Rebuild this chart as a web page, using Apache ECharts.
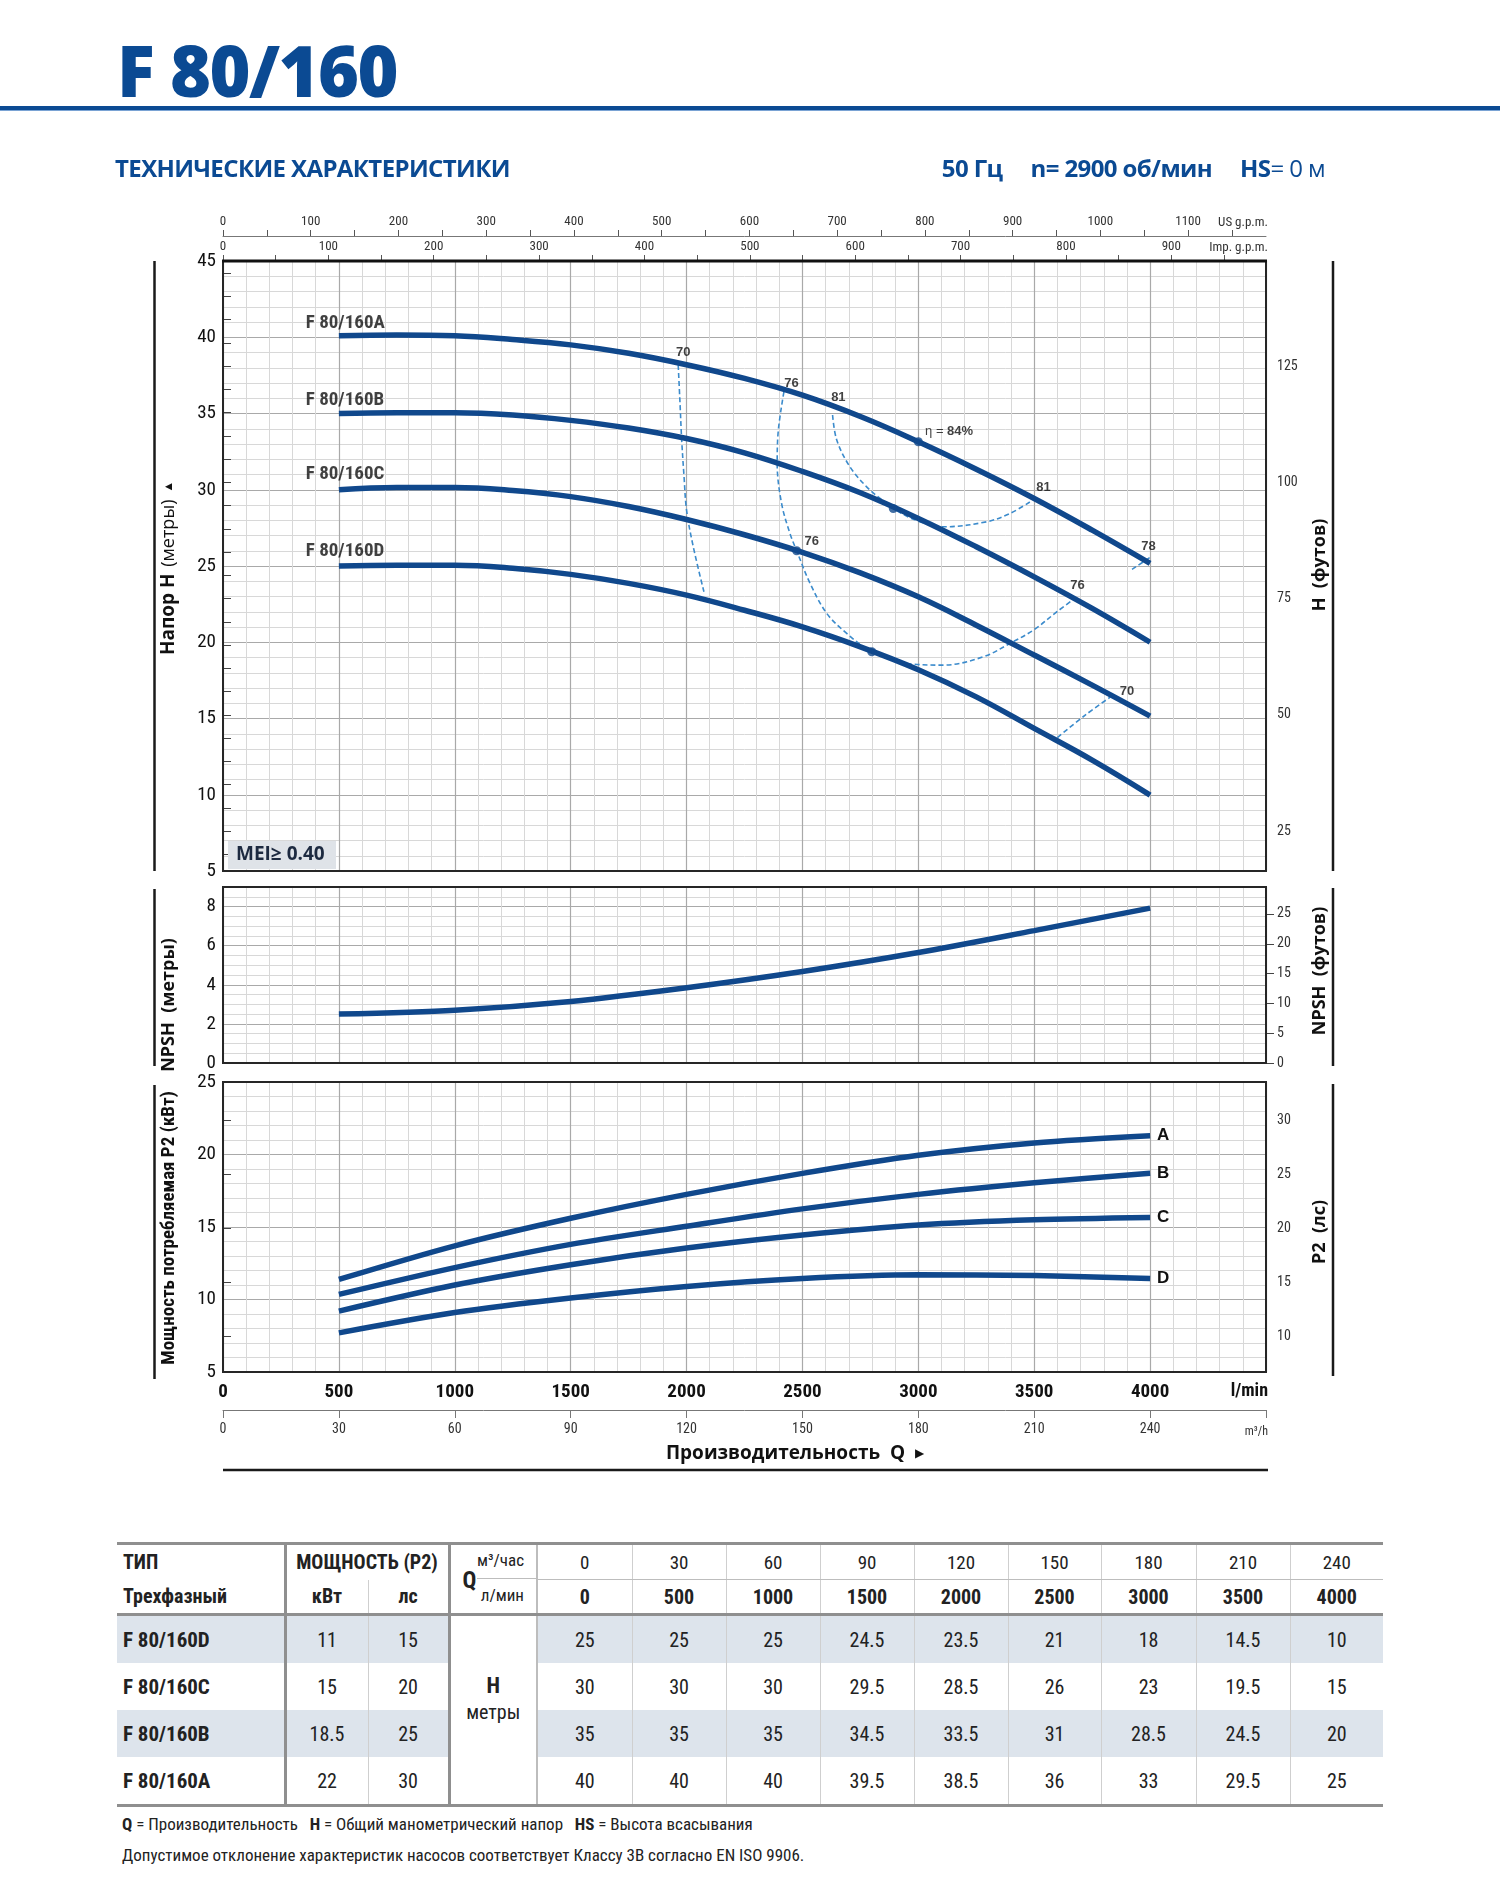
<!DOCTYPE html>
<html lang="ru">
<head>
<meta charset="UTF-8">
<title>F 80/160</title>
<style>
  body { margin:0; background:#fff; width:1500px; height:1893px; position:relative; overflow:hidden; font-family:'Open Sans', sans-serif; }
  .abs { position:absolute; z-index:5; }
  #title { left:117px; top:35px; font-size:70px; line-height:70px; font-weight:800; color:#0b4a93; letter-spacing:-1.5px; }
  #rule { left:0; top:106px; width:1500px; height:4px; background:#0b4a93; border-bottom:1px solid #7aa3d4; }
  #sub { left:115px; top:156px; font-size:24px; line-height:24px; font-weight:bold; color:#0b4a93; letter-spacing:-0.6px; }
  #spec { right:175px; top:156px; font-size:24px; line-height:24px; color:#0b4a93; letter-spacing:-0.6px; white-space:nowrap; }
  #spec b { margin-left:28px; }
  #spec b:first-child { margin-left:0; }
  #chart { position:absolute; left:0; top:0; width:1500px; height:1490px; z-index:1; }
  #tbl { position:absolute; left:117px; top:1542px; width:1266px; border-collapse:collapse; table-layout:fixed; z-index:5;
         font-family:'Liberation Sans Narrow','Arial Narrow','Roboto Condensed',sans-serif; font-size:20px; color:#222; }
  #tbl td { padding:0; text-align:center; border-right:1px solid #cfcfcf; }
  #tbl tr.r1 td { height:32px; border-top:3px solid #8f8f8f; }
  #tbl tr.r2 td { height:31px; border-bottom:3px solid #8f8f8f; }
  #tbl tr.d td { height:47px; }
  #tbl tr.last td { border-bottom:3px solid #8f8f8f; }
  #tbl tr.sh td { background:#dde4ec; }
  #tbl td.typ { text-align:left; padding-left:6px; font-weight:bold; border-right:3px solid #8f8f8f; }
  #tbl tr.d td.typ { font-size:21px; }
  #tbl td.pw { border-right:3px solid #8f8f8f; }
  #tbl td.b { font-weight:bold; }
  #tbl tr.r1 td.m3 { border-bottom:1px solid #bdbdbd; font-size:19px; }
  #tbl td.q { border-right:2px solid #bdbdbd; border-bottom:3px solid #8f8f8f; position:relative; }
  #tbl td.hc { background:#fff !important; border-right:2px solid #bdbdbd; border-bottom:3px solid #8f8f8f; vertical-align:middle; padding-bottom:22px; line-height:26px; }
  #tbl td.last { border-right:none; }
  .qbox { position:relative; width:100%; height:68px; }
  .qbox .Q { position:absolute; left:12px; top:22px; font-weight:bold; font-size:23px; }
  .qbox .u1 { position:absolute; right:12px; top:5px; font-size:17px; }
  .qbox .u2 { position:absolute; right:12px; top:40px; font-size:17px; }
  .qbox .ql { position:absolute; left:26px; right:0; top:33px; border-top:1px solid #bdbdbd; }
  .foot { left:122px; font-family:'Liberation Sans Narrow','Arial Narrow','Roboto Condensed',sans-serif; font-size:17px; color:#222; white-space:nowrap; }
  #f1 { top:1814px; }
  #f2 { top:1845px; }
</style>
</head>
<body>
<div id="chart"></div>
<div id="title" class="abs">F 80/160</div>
<div id="rule" class="abs"></div>
<div id="sub" class="abs">ТЕХНИЧЕСКИЕ ХАРАКТЕРИСТИКИ</div>
<div id="spec" class="abs"><b>50 Гц</b><b>n= 2900 об/мин</b><b>HS</b>= 0 м</div>
<table id="tbl"></table>
<div id="f1" class="abs foot"><b>Q</b> = Производительность &nbsp; <b>H</b> = Общий манометрический напор &nbsp; <b>HS</b> = Высота всасывания</div>
<div id="f2" class="abs foot">Допустимое отклонение характеристик насосов соответствует Классу 3В согласно EN ISO 9906.</div>
<script src="https://cdn.jsdelivr.net/npm/echarts@6/dist/echarts.min.js"></script>
<script>
// ---- data ----
// head curves, Q in l/min, H in m
var flowH = [500, 750, 1000, 1250, 1500, 1750, 2000, 2250, 2500, 2750, 3000, 3250, 3500, 3750, 4000];
var headA = [40.1, 40.15, 40.1, 39.85, 39.5, 38.95, 38.2, 37.3, 36.2, 34.8, 33.15, 31.35, 29.43, 27.35, 25.17];
var headB = [35.0, 35.05, 35.05, 34.9, 34.55, 34.05, 33.36, 32.42, 31.2, 29.8, 28.12, 26.26, 24.29, 22.22, 20.0];
var headC = [30.0, 30.15, 30.15, 29.95, 29.55, 28.9, 28.05, 27.05, 25.9, 24.55, 22.98, 21.12, 19.16, 17.19, 15.16];
var headD = [25.0, 25.05, 25.05, 24.85, 24.45, 23.86, 23.09, 22.1, 21.01, 19.7, 18.2, 16.42, 14.35, 12.27, 9.98];
var curveNames = ['F 80/160A', 'F 80/160B', 'F 80/160C', 'F 80/160D'];
var curveNameQ = 357;
var curveNameH = [40.9, 35.9, 31.0, 26.0];

// iso-efficiency lines [Q, H]
var eff70L = [[1964, 38.17], [1972, 35.6], [1979, 33.26], [1989, 30.9], [2000, 28.67], [2029, 26.26], [2075, 23.31]];
var eff76 = [[2420, 36.42], [2396, 33.91], [2391, 31.73], [2410, 29.1], [2446, 27.14], [2475, 26.0], [2533, 23.86],
             [2605, 21.89], [2691, 20.58], [2799, 19.38], [2950, 18.61], [3108, 18.5], [3281, 19.05], [3396, 19.93],
             [3497, 20.8], [3598, 22.0], [3677, 22.9]];
var eff81 = [[2630, 34.9], [2648, 33.26], [2705, 31.5], [2777, 30.19], [2835, 29.43], [2892, 28.77], [2990, 28.0],
             [3108, 27.57], [3295, 27.9], [3396, 28.45], [3490, 29.28]];
var eff70R = [[3600, 13.75], [3720, 15.22], [3828, 16.4]];
var eff78 = [[3922, 24.78], [4008, 25.65]];
var bepDots = [[3000, 33.15], [2892, 28.77], [2475, 26.0], [2799, 19.38]];
var effText = ['70', '76', '81', '81', '78', '76', '76', '70'];
var effTextQ = [1986, 2453, 2655, 3540, 3993, 2540, 3687, 3900];
var effTextH = [38.98, 37.0, 36.03, 30.15, 26.3, 26.59, 23.7, 16.8];
var etaQ = 3029, etaH = 33.8;

// NPSH, m
var flowP = [500, 1000, 1500, 2000, 2500, 3000, 3500, 4000];
var npsh = [2.5, 2.7, 3.15, 3.85, 4.68, 5.65, 6.77, 7.92];
// power P2, kW
var powerA = [11.38, 13.7, 15.6, 17.25, 18.7, 19.95, 20.8, 21.3];
var powerB = [10.35, 12.2, 13.8, 15.05, 16.25, 17.25, 18.05, 18.7];
var powerC = [9.2, 11.0, 12.4, 13.55, 14.45, 15.14, 15.5, 15.66];
var powerD = [7.7, 9.1, 10.1, 10.9, 11.45, 11.7, 11.65, 11.45];
var powerNames = ['A', 'B', 'C', 'D'];

// tick labels
var lminLabels = [0, 500, 1000, 1500, 2000, 2500, 3000, 3500, 4000];
var m3hLabels = [0, 30, 60, 90, 120, 150, 180, 210, 240];
var usTicks = [0, 50, 100, 150, 200, 250, 300, 350, 400, 450, 500, 550, 600, 650, 700, 750, 800, 850, 900, 950, 1000, 1050, 1100, 1150];
var usLabels = [0, 100, 200, 300, 400, 500, 600, 700, 800, 900, 1000, 1100];
var impTicks = [0, 50, 100, 150, 200, 250, 300, 350, 400, 450, 500, 550, 600, 650, 700, 750, 800, 850, 900, 950];
var impLabels = [0, 100, 200, 300, 400, 500, 600, 700, 800, 900];
var ftTicks = [20, 25, 30, 35, 40, 45, 50, 55, 60, 65, 70, 75, 80, 85, 90, 95, 100, 105, 110, 115, 120, 125, 130, 135, 140, 145];
var ftLabels = [25, 50, 75, 100, 125];
var npshFtLabels = [0, 5, 10, 15, 20, 25];
var hpLabels = [10, 15, 20, 25, 30];

// table
var tblTypes = ['F 80/160D', 'F 80/160C', 'F 80/160B', 'F 80/160A'];
var tblKw = ['11', '15', '18.5', '22'];
var tblHp = ['15', '20', '25', '30'];
var tblM3h = [0, 30, 60, 90, 120, 150, 180, 210, 240];
var tblLmin = [0, 500, 1000, 1500, 2000, 2500, 3000, 3500, 4000];
var tblHead = [
  [25, 25, 25, 24.5, 23.5, 21, 18, 14.5, 10],
  [30, 30, 30, 29.5, 28.5, 26, 23, 19.5, 15],
  [35, 35, 35, 34.5, 33.5, 31, 28.5, 24.5, 20],
  [40, 40, 40, 39.5, 38.5, 36, 33, 29.5, 25]
];

var M_TO_FT = 1 / 0.3048, KW_TO_HP = 1 / 0.7457;
var LMIN_TO_US = 0.264172, LMIN_TO_IMP = 0.219969;

// ---- table ----
(function () {
  var h = '<colgroup><col style="width:168px"><col style="width:83px"><col style="width:81px"><col style="width:88px">';
  var w = [95, 94, 94, 94, 94, 93, 95, 94, 93];
  w.forEach(function (x) { h += '<col style="width:' + x + 'px">'; });
  h += '</colgroup>';
  h += '<tr class="r1"><td class="typ">ТИП</td><td colspan="2" class="b pw">МОЩНОСТЬ (P2)</td>' +
       '<td rowspan="2" class="q"><div class="qbox"><span class="Q">Q</span><span class="u1">м³/час</span><span class="u2">л/мин</span><div class="ql"></div></div></td>';
  tblM3h.forEach(function (v, i) { h += '<td class="m3' + (i === 8 ? ' last' : '') + '">' + v + '</td>'; });
  h += '</tr><tr class="r2"><td class="typ">Трехфазный</td><td class="b">кВт</td><td class="b pw">лс</td>';
  tblLmin.forEach(function (v, i) { h += '<td class="b' + (i === 8 ? ' last' : '') + '">' + v + '</td>'; });
  h += '</tr>';
  tblTypes.forEach(function (t, r) {
    var cls = 'd' + (r % 2 === 0 ? ' sh' : '') + (r === 3 ? ' last' : '');
    h += '<tr class="' + cls + '"><td class="typ">' + t + '</td><td>' + tblKw[r] + '</td><td class="pw">' + tblHp[r] + '</td>';
    if (r === 0) h += '<td rowspan="4" class="hc"><b style="font-size:22px">H</b><br>метры</td>';
    tblHead[r].forEach(function (v, i) { h += '<td' + (i === 8 ? ' class="last"' : '') + '>' + v + '</td>'; });
    h += '</tr>';
  });
  document.getElementById('tbl').innerHTML = h;
})();

// ---- chart ----
var cond = "'Liberation Sans Narrow','Arial Narrow','Roboto Condensed',sans-serif";
var sans = "'Open Sans','Liberation Sans',sans-serif";
var arial = "'Liberation Sans',Arial,sans-serif";
var blue = '#10488c';
var dash = '#3b8bcc';
var majorLine = { show: true, lineStyle: { color: '#a9a9a9', width: 1.2 } };
var minorLine = { show: true, lineStyle: { color: '#d8d8d8', width: 1 } };
var plainNum = function (v) { return String(v); };

function zip(xs, ys) { return xs.map(function (x, i) { return [x, ys[i]]; }); }

function flowAxis(grid, extra) {
  var a = {
    type: 'value', gridIndex: grid, position: 'bottom', min: 0, max: 4500, interval: 500,
    axisLine: { show: false }, axisTick: { show: false }, axisLabel: { show: false },
    splitLine: majorLine, minorTick: { show: false, splitNumber: 5 }, minorSplitLine: minorLine
  };
  for (var k in extra) a[k] = extra[k];
  return a;
}

var leftLabel = { fontSize: 19, color: '#111', margin: 7, fontFamily: cond, formatter: plainNum };

var series = [];
[headA, headB, headC, headD].forEach(function (h, i) {
  series.push({
    type: 'line', name: curveNames[i], xAxisIndex: 0, yAxisIndex: 0, data: zip(flowH, h),
    smooth: 0.4, showSymbol: false, symbol: 'none', lineStyle: { color: blue, width: 5.5 }, z: 4
  });
});
[eff70L, eff76, eff81, eff70R, eff78].forEach(function (d) {
  series.push({
    type: 'line', xAxisIndex: 0, yAxisIndex: 0, data: d, smooth: 0.35, symbol: 'none',
    lineStyle: { color: dash, width: 1.6, type: [5, 3] }, z: 3
  });
});
series.push({
  type: 'scatter', xAxisIndex: 0, yAxisIndex: 0, data: bepDots, symbolSize: 9,
  itemStyle: { color: blue }, z: 5
});
series.push({
  type: 'scatter', xAxisIndex: 0, yAxisIndex: 0, symbolSize: 0, z: 6,
  data: effText.map(function (t, i) { return { name: t, value: [effTextQ[i], effTextH[i]] }; }),
  label: { show: true, position: 'inside', formatter: '{b}', fontSize: 13, fontWeight: 'bold', color: '#111', fontFamily: arial }
});
series.push({
  type: 'scatter', xAxisIndex: 0, yAxisIndex: 0, symbolSize: 0, z: 6,
  data: [{ name: 'eta', value: [etaQ, etaH] }],
  label: {
    show: true, position: 'inside', align: 'left', formatter: '{n|η = }{b|84%}',
    rich: { n: { fontSize: 13, color: '#111', fontFamily: arial }, b: { fontSize: 13, fontWeight: 'bold', color: '#111', fontFamily: arial } }
  }
});
series.push({
  type: 'scatter', xAxisIndex: 0, yAxisIndex: 0, symbolSize: 0, z: 6,
  data: curveNames.map(function (n, i) { return { name: n, value: [curveNameQ, curveNameH[i]] }; }),
  label: { show: true, position: 'inside', align: 'left', formatter: '{b}', fontSize: 19, fontWeight: 'bold', color: '#111', fontFamily: cond }
});
series.push({
  type: 'line', xAxisIndex: 3, yAxisIndex: 2, data: zip(flowP, npsh), smooth: 0.3, symbol: 'none',
  lineStyle: { color: blue, width: 5.5 }, z: 4
});
[powerA, powerB, powerC, powerD].forEach(function (p, i) {
  series.push({
    type: 'line', xAxisIndex: 4, yAxisIndex: 4, data: zip(flowP, p), smooth: 0.3, symbol: 'none',
    lineStyle: { color: blue, width: 5.5 }, z: 4,
    endLabel: { show: true, formatter: powerNames[i], distance: 7, fontSize: 17, fontWeight: 'bold', color: '#111', fontFamily: arial }
  });
});

function vtext(x, y, text, rich) {
  return { type: 'text', x: x, y: y, rotation: Math.PI / 2, z: 100,
           style: { text: text, rich: rich, align: 'center', verticalAlign: 'middle' } };
}
function vline(x, y1, y2) {
  return { type: 'line', z: 100, shape: { x1: x, y1: y1, x2: x, y2: y2 }, style: { stroke: '#1a1a1a', lineWidth: 2.5 } };
}
function frame(x, y, w, h) {
  return { type: 'rect', z: 100, shape: { x: x, y: y, width: w, height: h }, style: { fill: 'none', stroke: '#262626', lineWidth: 2 } };
}
var rb = { fontSize: 19, fontWeight: 'bold', fill: '#111', fontFamily: sans };
var rn = { fontSize: 18, fill: '#111', fontFamily: sans };
var rc = { fontSize: 19, fontWeight: 'bold', fill: '#111', fontFamily: cond };
var rt = { fontSize: 18, fontWeight: 'bold', fill: '#111', fontFamily: sans };

var option = {
  animation: false,
  grid: [
    { left: 223, top: 261, width: 1043, height: 610 },
    { left: 223, top: 887, width: 1043, height: 176 },
    { left: 223, top: 1082, width: 1043, height: 290 }
  ],
  xAxis: [
    flowAxis(0),
    { type: 'value', gridIndex: 0, position: 'top', min: 0, max: 4500 * LMIN_TO_IMP,
      axisLine: { show: false },
      axisTick: { show: true, customValues: impTicks, length: 6, lineStyle: { color: '#555' } },
      axisLabel: { customValues: impLabels, margin: 8, fontSize: 13, color: '#333', fontFamily: cond, formatter: plainNum },
      splitLine: { show: false } },
    { type: 'value', gridIndex: 0, position: 'top', offset: 25, min: 0, max: 4500 * LMIN_TO_US,
      axisLine: { show: true, lineStyle: { color: '#777', width: 1 } },
      axisTick: { show: true, customValues: usTicks, length: 6, lineStyle: { color: '#555' } },
      axisLabel: { customValues: usLabels, margin: 8, fontSize: 13, color: '#333', fontFamily: cond, formatter: plainNum },
      splitLine: { show: false } },
    flowAxis(1),
    flowAxis(2, { axisLabel: { show: true, customValues: lminLabels, fontSize: 19, fontWeight: 'bold', color: '#111', margin: 11, fontFamily: cond, formatter: plainNum } }),
    { type: 'value', gridIndex: 2, position: 'bottom', offset: 38, min: 0, max: 270, interval: 30,
      axisLine: { show: true, lineStyle: { color: '#777', width: 1 } },
      axisTick: { show: true, length: 8, lineStyle: { color: '#777' } },
      axisLabel: { customValues: m3hLabels, fontSize: 14, color: '#333', margin: 12, fontFamily: cond, formatter: plainNum },
      splitLine: { show: false } }
  ],
  yAxis: [
    { type: 'value', gridIndex: 0, min: 5, max: 45, interval: 5, axisLine: { show: false }, axisTick: { show: false },
      axisLabel: leftLabel, splitLine: majorLine, minorTick: { show: false, splitNumber: 5 }, minorSplitLine: minorLine },
    { type: 'value', gridIndex: 0, position: 'right', min: 5 * M_TO_FT, max: 45 * M_TO_FT, axisLine: { show: false },
      axisTick: { show: true, customValues: ftTicks, length: 8, lineStyle: { color: '#444' } },
      axisLabel: { customValues: ftLabels, fontSize: 14, color: '#333', margin: 11, fontFamily: cond, formatter: plainNum }, splitLine: { show: false } },
    { type: 'value', gridIndex: 1, min: 0, max: 9, interval: 0.5, axisLine: { show: false }, axisTick: { show: false },
      axisLabel: { fontSize: 19, color: '#111', margin: 7, fontFamily: cond,
                   formatter: function (v) { return v % 2 === 0 ? String(v) : ''; } },
      splitLine: { show: true, lineStyle: { color: ['#a9a9a9', '#d8d8d8', '#d8d8d8', '#d8d8d8'], width: 1.1 } } },
    { type: 'value', gridIndex: 1, position: 'right', min: 0, max: 9 * M_TO_FT, axisLine: { show: false },
      axisTick: { show: true, customValues: npshFtLabels, length: 8, lineStyle: { color: '#444' } },
      axisLabel: { customValues: npshFtLabels, fontSize: 14, color: '#333', margin: 11, fontFamily: cond, formatter: plainNum }, splitLine: { show: false } },
    { type: 'value', gridIndex: 2, min: 5, max: 25, interval: 5, axisLine: { show: false }, axisTick: { show: false },
      axisLabel: leftLabel, splitLine: majorLine, minorTick: { show: false, splitNumber: 5 }, minorSplitLine: minorLine },
    { type: 'value', gridIndex: 2, position: 'right', min: 5 * KW_TO_HP, max: 25 * KW_TO_HP, axisLine: { show: false },
      axisTick: { show: true, customValues: hpLabels, length: 8, lineStyle: { color: '#444' } },
      axisLabel: { customValues: hpLabels, fontSize: 14, color: '#333', margin: 11, fontFamily: cond, formatter: plainNum }, splitLine: { show: false } }
  ],
  graphic: [
    frame(223, 261, 1043, 610),
    { type: 'line', z: 101, shape: { x1: 222, y1: 261, x2: 1267, y2: 261 }, style: { stroke: '#111', lineWidth: 3 } },
    frame(223, 887, 1043, 176),
    frame(223, 1082, 1043, 290),
    vline(154.5, 261, 871), vline(154.5, 889, 1066), vline(154.5, 1085, 1379),
    vline(1333, 261, 871), vline(1333, 888, 1066), vline(1333, 1084, 1376),
    vtext(169, 568, '{b|Напор H}  {n|(метры)}  {a|▲}', { b: rb, n: rn, a: { fontSize: 12, fill: '#111' } }),
    vtext(1320, 565, '{b|H  (футов)}', { b: rt }),
    vtext(169, 1005, '{b|NPSH  (метры)}', { b: rt }),
    vtext(1320, 971, '{b|NPSH  (футов)}', { b: rt }),
    vtext(169, 1228, '{b|Мощность потребляемая P2 (кВт)}', { b: rc }),
    vtext(1320, 1232, '{b|P2  (лс)}', { b: rt }),
    { type: 'text', z: 100, x: 1268, y: 223, style: { text: 'US g.p.m.', align: 'right', verticalAlign: 'middle', fontSize: 13, fill: '#333', fontFamily: cond } },
    { type: 'text', z: 100, x: 1268, y: 248, style: { text: 'Imp. g.p.m.', align: 'right', verticalAlign: 'middle', fontSize: 13, fill: '#333', fontFamily: cond } },
    { type: 'text', z: 100, x: 1268, y: 1391, style: { text: 'l/min', align: 'right', verticalAlign: 'middle', fontSize: 18, fontWeight: 'bold', fill: '#111', fontFamily: cond } },
    { type: 'text', z: 100, x: 1268, y: 1432, style: { text: 'm³/h', align: 'right', verticalAlign: 'middle', fontSize: 12, fill: '#333', fontFamily: cond } },
    { type: 'rect', z: 100, shape: { x: 228, y: 841, width: 108, height: 28 }, style: { fill: '#dfe3e8' } },
    { type: 'text', z: 101, x: 236, y: 855, style: { text: 'MEI≥ 0.40', align: 'left', verticalAlign: 'middle', fontSize: 19, fontWeight: 'bold', fill: '#1d2a40', fontFamily: sans } },
    { type: 'text', z: 100, x: 795, y: 1454, style: { text: '{t|Производительность  Q}   {a|▶}', align: 'center', verticalAlign: 'middle',
      rich: { t: { fontSize: 19, fontWeight: 'bold', fill: '#111', fontFamily: sans }, a: { fontSize: 12, fill: '#111' } } } },
    { type: 'line', z: 100, shape: { x1: 223, y1: 1470, x2: 1268, y2: 1470 }, style: { stroke: '#1a1a1a', lineWidth: 2.5 } }
  ],
  series: series
};

var chart = echarts.init(document.getElementById('chart'));
chart.setOption(option);
</script>
</body>
</html>
